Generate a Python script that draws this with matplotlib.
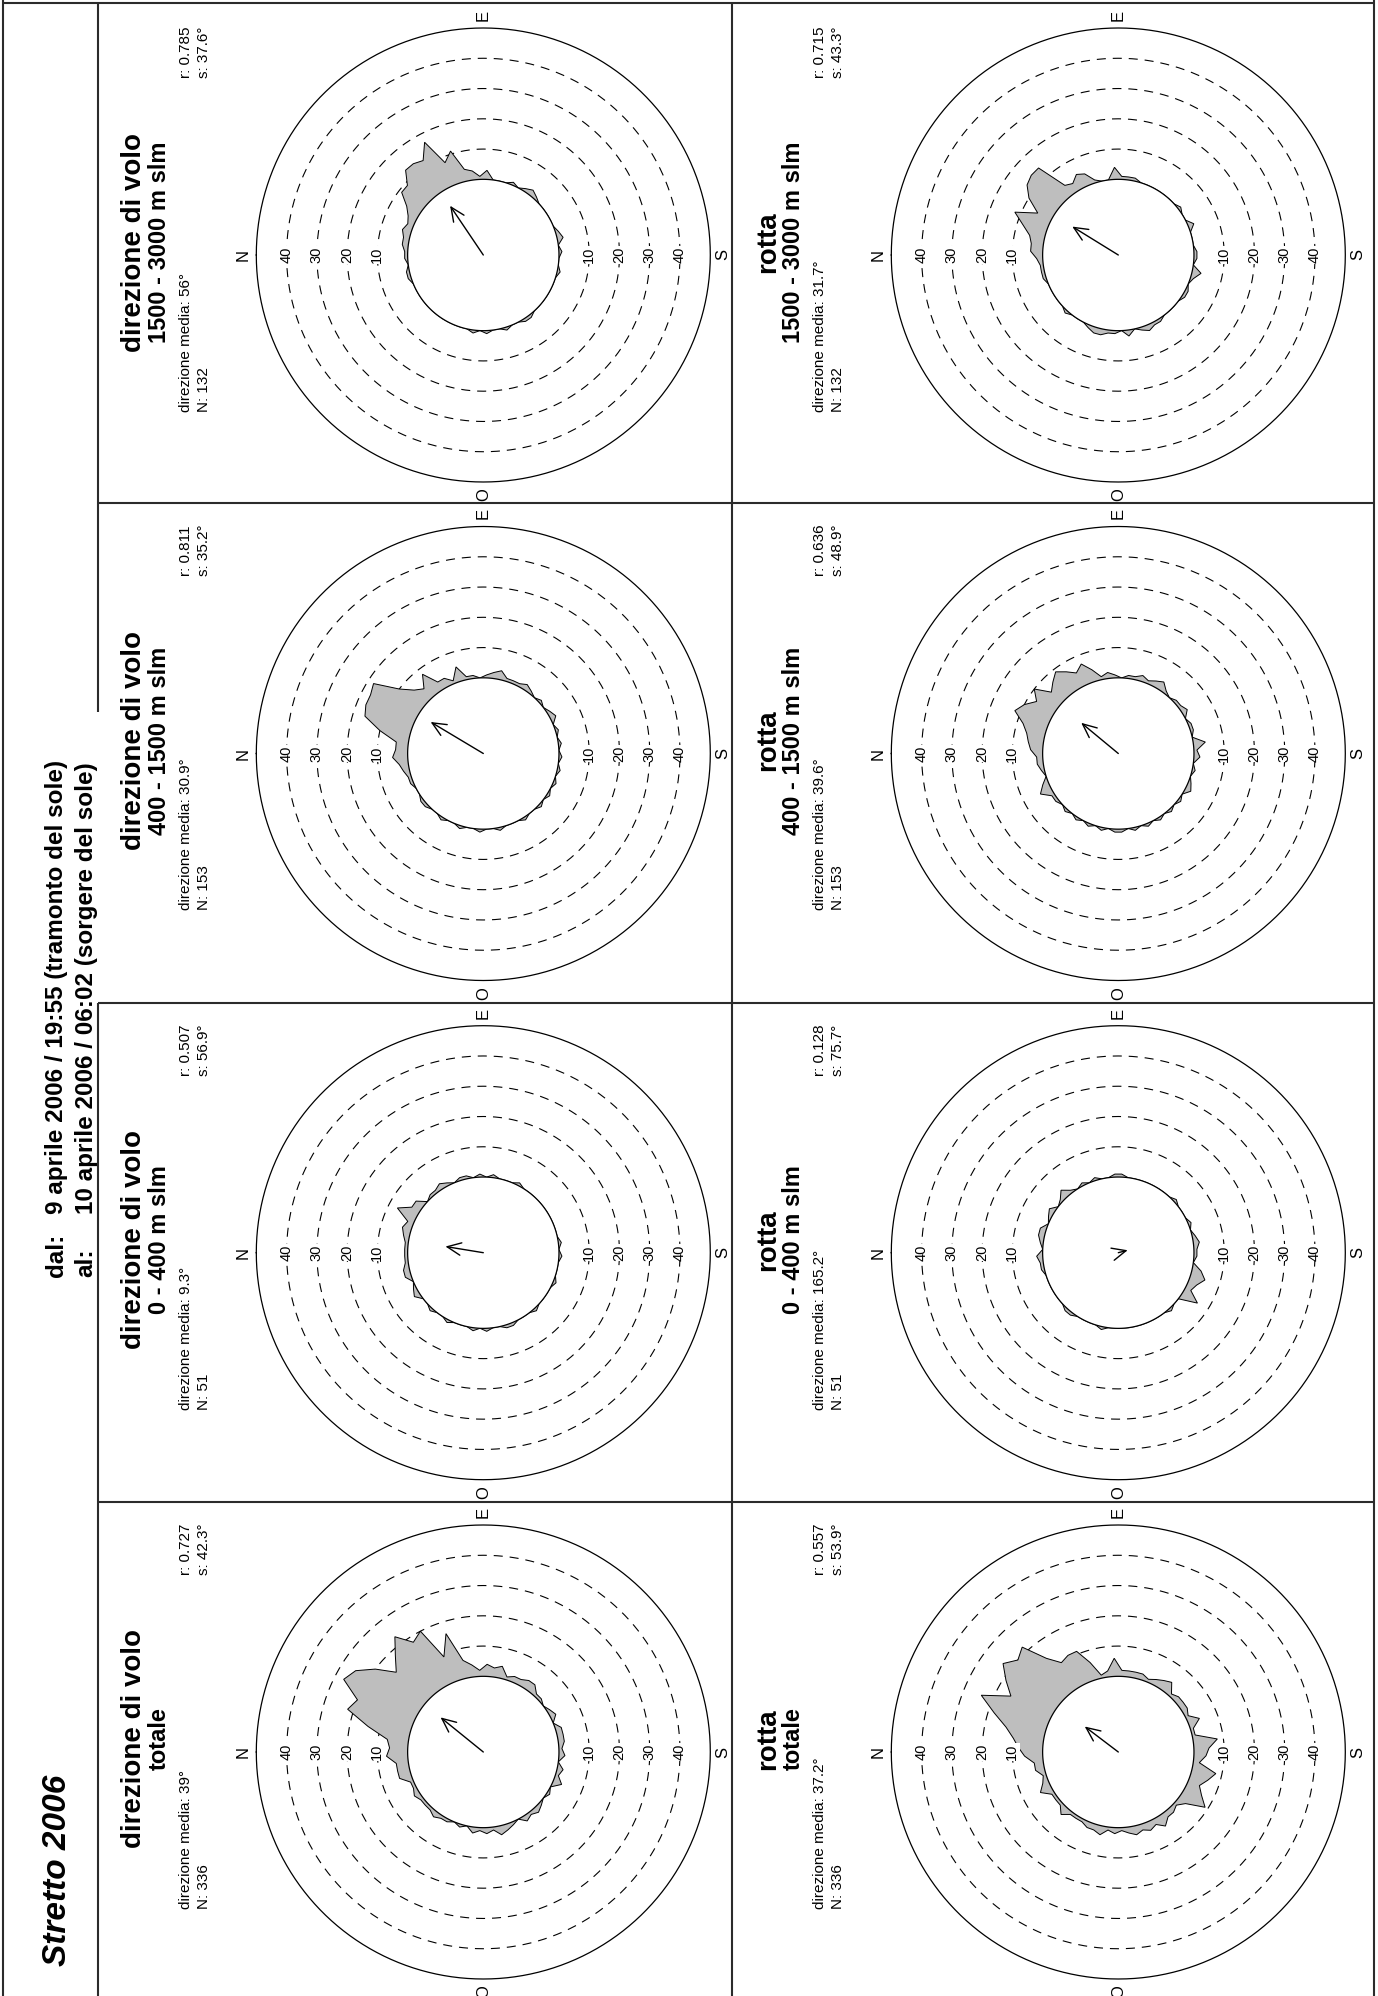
import numpy as np
import matplotlib
matplotlib.use("Agg")
import matplotlib.pyplot as plt

plt.rcParams["font.family"] = ["Liberation Sans", "DejaVu Sans"]
plt.rcParams["lines.scale_dashes"] = False

# ---------------------------------------------------------------------------
# Data: counts per 5-degree class (class centres 2.5, 7.5, ... 357.5 degrees,
# measured clockwise from north)
# ---------------------------------------------------------------------------
class_centres = np.arange(2.5, 360.0, 5.0)

volo_totale = [6, 7, 14, 22, 20, 27, 25, 20, 14, 18,
               23, 18, 20, 9, 16, 6, 4, 2, 4, 3,
               4, 1, 2, 2, 3, 3, 1, 1, 0, 1,
               2, 0, 2, 2, 2, 1, 2, 0, 2, 1,
               3, 0, 1, 0, 1, 2, 1, 2, 0, 1,
               2, 3, 1, 2, 1, 2, 0, 1, 0, 1,
               1, 2, 1, 1, 1, 2, 1, 1, 4, 4,
               4, 7]
volo_0_400 = [1, 1, 2, 3, 2, 7, 3, 3, 0, 1,
              1, 2, 1, 0, 1, 1, 0, 1, 0, 1,
              0, 0, 0, 1, 0, 0, 0, 0, 0, 0,
              0, 0, 0, 0, 1, 0, 1, 0, 0, 0,
              1, 0, 0, 0, 0, 1, 0, 0, 0, 1,
              1, 0, 0, 1, 0, 1, 0, 0, 0, 1,
              0, 0, 1, 0, 0, 2, 1, 0, 2, 2,
              1, 1]
volo_400_1500 = [4, 4, 10, 16, 17, 17, 18, 10, 6, 4,
                 8, 3, 3, 1, 5, 1, 1, 0, 1, 2,
                 3, 1, 1, 1, 2, 1, 0, 1, 0, 1,
                 2, 0, 1, 0, 1, 0, 1, 0, 1, 0,
                 1, 0, 1, 0, 1, 0, 0, 1, 0, 0,
                 0, 1, 0, 0, 1, 0, 0, 1, 0, 0,
                 1, 0, 0, 1, 1, 0, 0, 1, 1, 2,
                 3, 5]
volo_1500_3000 = [1, 2, 2, 3, 2, 3, 5, 9, 9, 13,
                  13, 12, 17, 8, 11, 4, 3, 1, 3, 0,
                  0, 0, 1, 0, 1, 2, 1, 0, 0, 0,
                  0, 0, 1, 2, 0, 1, 0, 0, 1, 0,
                  0, 0, 0, 0, 0, 0, 1, 1, 0, 0,
                  1, 0, 0, 1, 0, 1, 0, 0, 0, 0,
                  0, 0, 0, 0, 0, 0, 0, 0, 1, 1,
                  0, 1]

rotta_totale = [8, 10, 13, 18, 24, 15, 19, 23, 20, 22,
                14, 10, 11, 11, 6, 1, 2, 6, 2, 2,
                2, 2, 1, 2, 3, 4, 1, 2, 2, 2,
                1, 4, 1, 1, 8, 5, 4, 2, 8, 6,
                4, 6, 9, 3, 1, 2, 2, 4, 2, 3,
                2, 3, 2, 1, 2, 1, 3, 2, 2, 1,
                1, 1, 3, 1, 1, 1, 4, 2, 1, 3,
                3, 6]
rotta_0_400 = [0, 1, 2, 2, 0, 1, 2, 0, 1, 3,
               1, 0, 1, 0, 1, 0, 0, 1, 1, 0,
               0, 0, 0, 0, 0, 0, 0, 1, 0, 0,
               0, 1, 0, 1, 2, 1, 1, 0, 3, 5,
               3, 2, 6, 0, 0, 1, 0, 0, 0, 0,
               0, 0, 0, 0, 0, 0, 1, 0, 0, 0,
               0, 1, 1, 0, 0, 0, 0, 0, 0, 1,
               1, 2]
rotta_400_1500 = [4, 5, 6, 8, 12, 10, 7, 10, 5, 7,
                  9, 7, 5, 7, 4, 1, 2, 1, 0, 1,
                  1, 2, 1, 2, 3, 1, 0, 1, 1, 2,
                  0, 1, 1, 0, 4, 1, 2, 0, 1, 0,
                  1, 2, 0, 1, 0, 1, 0, 1, 0, 1,
                  0, 1, 0, 1, 1, 0, 1, 0, 1, 0,
                  1, 0, 1, 0, 1, 1, 4, 2, 0, 1,
                  2, 2]
rotta_1500_3000 = [4, 4, 5, 8, 12, 5, 10, 13, 14, 14,
                   4, 3, 5, 4, 1, 0, 0, 4, 1, 1,
                   1, 0, 0, 0, 0, 0, 0, 0, 1, 0,
                   0, 2, 0, 0, 0, 1, 1, 0, 3, 1,
                   0, 1, 1, 0, 0, 0, 0, 1, 1, 2,
                   1, 0, 2, 0, 1, 1, 2, 2, 1, 0,
                   0, 0, 1, 0, 0, 0, 0, 0, 1, 1,
                   1, 2]

layer_labels = ["totale", "0 - 400 m slm", "400 - 1500 m slm", "1500 - 3000 m slm"]
kind_labels = ["direzione di volo", "rotta"]

# summary statistics: mean direction (deg), N, mean vector length r, angular deviation s
volo_mean = [39.0, 9.3, 30.9, 56.0]
volo_mean_txt = ["39°", "9.3°", "30.9°", "56°"]
volo_r = [0.727, 0.507, 0.811, 0.785]
volo_s = ["42.3°", "56.9°", "35.2°", "37.6°"]
rotta_mean = [37.2, 165.2, 39.6, 31.7]
rotta_mean_txt = ["37.2°", "165.2°", "39.6°", "31.7°"]
rotta_r = [0.557, 0.128, 0.636, 0.715]
rotta_s = ["53.9°", "75.7°", "48.9°", "43.3°"]
n_birds = [336, 51, 153, 132]

ring_values = [10, 20, 30, 40]
compass = [("N", 0), ("E", 90), ("S", 180), ("O", 270)]

# ---------------------------------------------------------------------------
W, H, DPI = 1378, 1996, 100
fig = plt.figure(figsize=(W / DPI, H / DPI), dpi=DPI)
fig.patch.set_facecolor("white")

# page overlay in pixel units (origin top-left)
page = fig.add_axes([0, 0, 1, 1])
page.set_xlim(0, W)
page.set_ylim(H, 0)
page.axis("off")

frame_kw = dict(color="#2b2b2b", lw=1.5, solid_capstyle="butt")
row_left = [98, 732]
row_right = 1374
col_centre_y = [1752, 1252.7, 753.5, 255]
row_centre_x = [483.3, 1118.3]
dividers = [503, 1003, 1502]

page.plot([3, 3], [0, H], **frame_kw)
page.plot([row_right, row_right], [0, H], **frame_kw)
page.plot([3, row_right], [3, 3], **frame_kw)
# title strip border, interrupted beside the date header
page.plot([98, 98], [3, 712], **frame_kw)
page.plot([98, 98], [1003, H], **frame_kw)
page.plot([732, 732], [3, H], **frame_kw)
for yd in dividers:
    page.plot([98, row_right], [yd, yd], **frame_kw)

txt = dict(rotation=90, rotation_mode="anchor", color="black")
page.text(58, 1966, "Stretto 2006", fontsize=24, fontweight="bold",
          fontstyle="italic", ha="left", va="center", **txt)
hdr = dict(fontsize=17.5, fontweight="bold", ha="left", va="center", **txt)
page.text(56, 1277, "dal:", **hdr)
page.text(56, 1214, "9 aprile 2006 / 19:55 (tramonto del sole)", **hdr)
page.text(86, 1277, "al:", **hdr)
page.text(86, 1214, "10 aprile 2006 / 06:02 (sorgere del sole)", **hdr)

RADIUS_PX = 227.0
R_BASE, R_MAX = 25.0, 75.0
circle_t = np.linspace(0, 2 * np.pi, 721)


def rose(cx, cy, counts, mean_dir, r_len):
    ax = fig.add_axes([(cx - RADIUS_PX) / W, 1 - (cy + RADIUS_PX) / H,
                       2 * RADIUS_PX / W, 2 * RADIUS_PX / H], projection="polar")
    ax.set_theta_zero_location("W")
    ax.set_theta_direction(-1)
    ax.set_ylim(0, R_MAX)
    ax.axis("off")

    # scale rings
    for v in ring_values:
        ax.plot(circle_t, np.full_like(circle_t, R_BASE + v), color="black",
                lw=0.8, ls=(0, (6.5, 5.0)), zorder=1)
    ax.plot(circle_t, np.full_like(circle_t, R_MAX), color="black", lw=0.9,
            zorder=1, clip_on=False)

    # frequency polygon
    th = np.deg2rad(np.append(class_centres, class_centres[0]))
    rr = R_BASE + np.append(counts, counts[0])
    ax.fill(th, rr, facecolor="#bebebe", edgecolor="black", lw=0.7, zorder=2)
    ax.fill(circle_t, np.full_like(circle_t, R_BASE), facecolor="white",
            edgecolor="black", lw=0.9, zorder=3)

    # mean vector
    ax.annotate("", xy=(np.deg2rad(mean_dir), r_len * R_BASE), xytext=(0, 0),
                arrowprops=dict(arrowstyle="->,head_length=1.0,head_width=0.45",
                                mutation_scale=10, lw=1.0, color="black",
                                shrinkA=0, shrinkB=0), zorder=4)

    # ring labels along the N-S axis
    for v in ring_values:
        for b in (0, 180):
            ax.text(np.deg2rad(b), R_BASE + v, str(v), fontsize=10.5, rotation=90,
                    ha="center", va="center", zorder=5,
                    bbox=dict(facecolor="white", edgecolor="none", pad=0.3))
    for lab, b in compass:
        ax.text(np.deg2rad(b), 79.2, lab, fontsize=12, rotation=90,
                ha="center", va="center", clip_on=False)
    return ax


series = [[volo_totale, volo_0_400, volo_400_1500, volo_1500_3000],
          [rotta_totale, rotta_0_400, rotta_400_1500, rotta_1500_3000]]
means = [volo_mean, rotta_mean]
means_txt = [volo_mean_txt, rotta_mean_txt]
rlens = [volo_r, rotta_r]
sdevs = [volo_s, rotta_s]

for i in range(2):
    for j in range(4):
        cx, cy = row_centre_x[i], col_centre_y[j]
        left = row_left[i]
        rose(cx, cy, series[i][j], means[i][j], rlens[i][j])
        page.text(left + 36, cy - 13, kind_labels[i], fontsize=20, fontweight="bold",
                  ha="center", va="center", **txt)
        page.text(left + 61, cy - 13, layer_labels[j], fontsize=17, fontweight="bold",
                  ha="center", va="center", **txt)
        page.text(left + 88, cy + 157, "direzione media: " + means_txt[i][j],
                  fontsize=11, ha="left", va="center", **txt)
        page.text(left + 106, cy + 157, "N: %d" % n_birds[j],
                  fontsize=11, ha="left", va="center", **txt)
        page.text(left + 88, cy - 177, "r: %.3f" % rlens[i][j],
                  fontsize=11, ha="left", va="center", **txt)
        page.text(left + 106, cy - 177, "s: " + sdevs[i][j],
                  fontsize=11, ha="left", va="center", **txt)

fig.savefig("out.png", dpi=DPI, facecolor="white")
